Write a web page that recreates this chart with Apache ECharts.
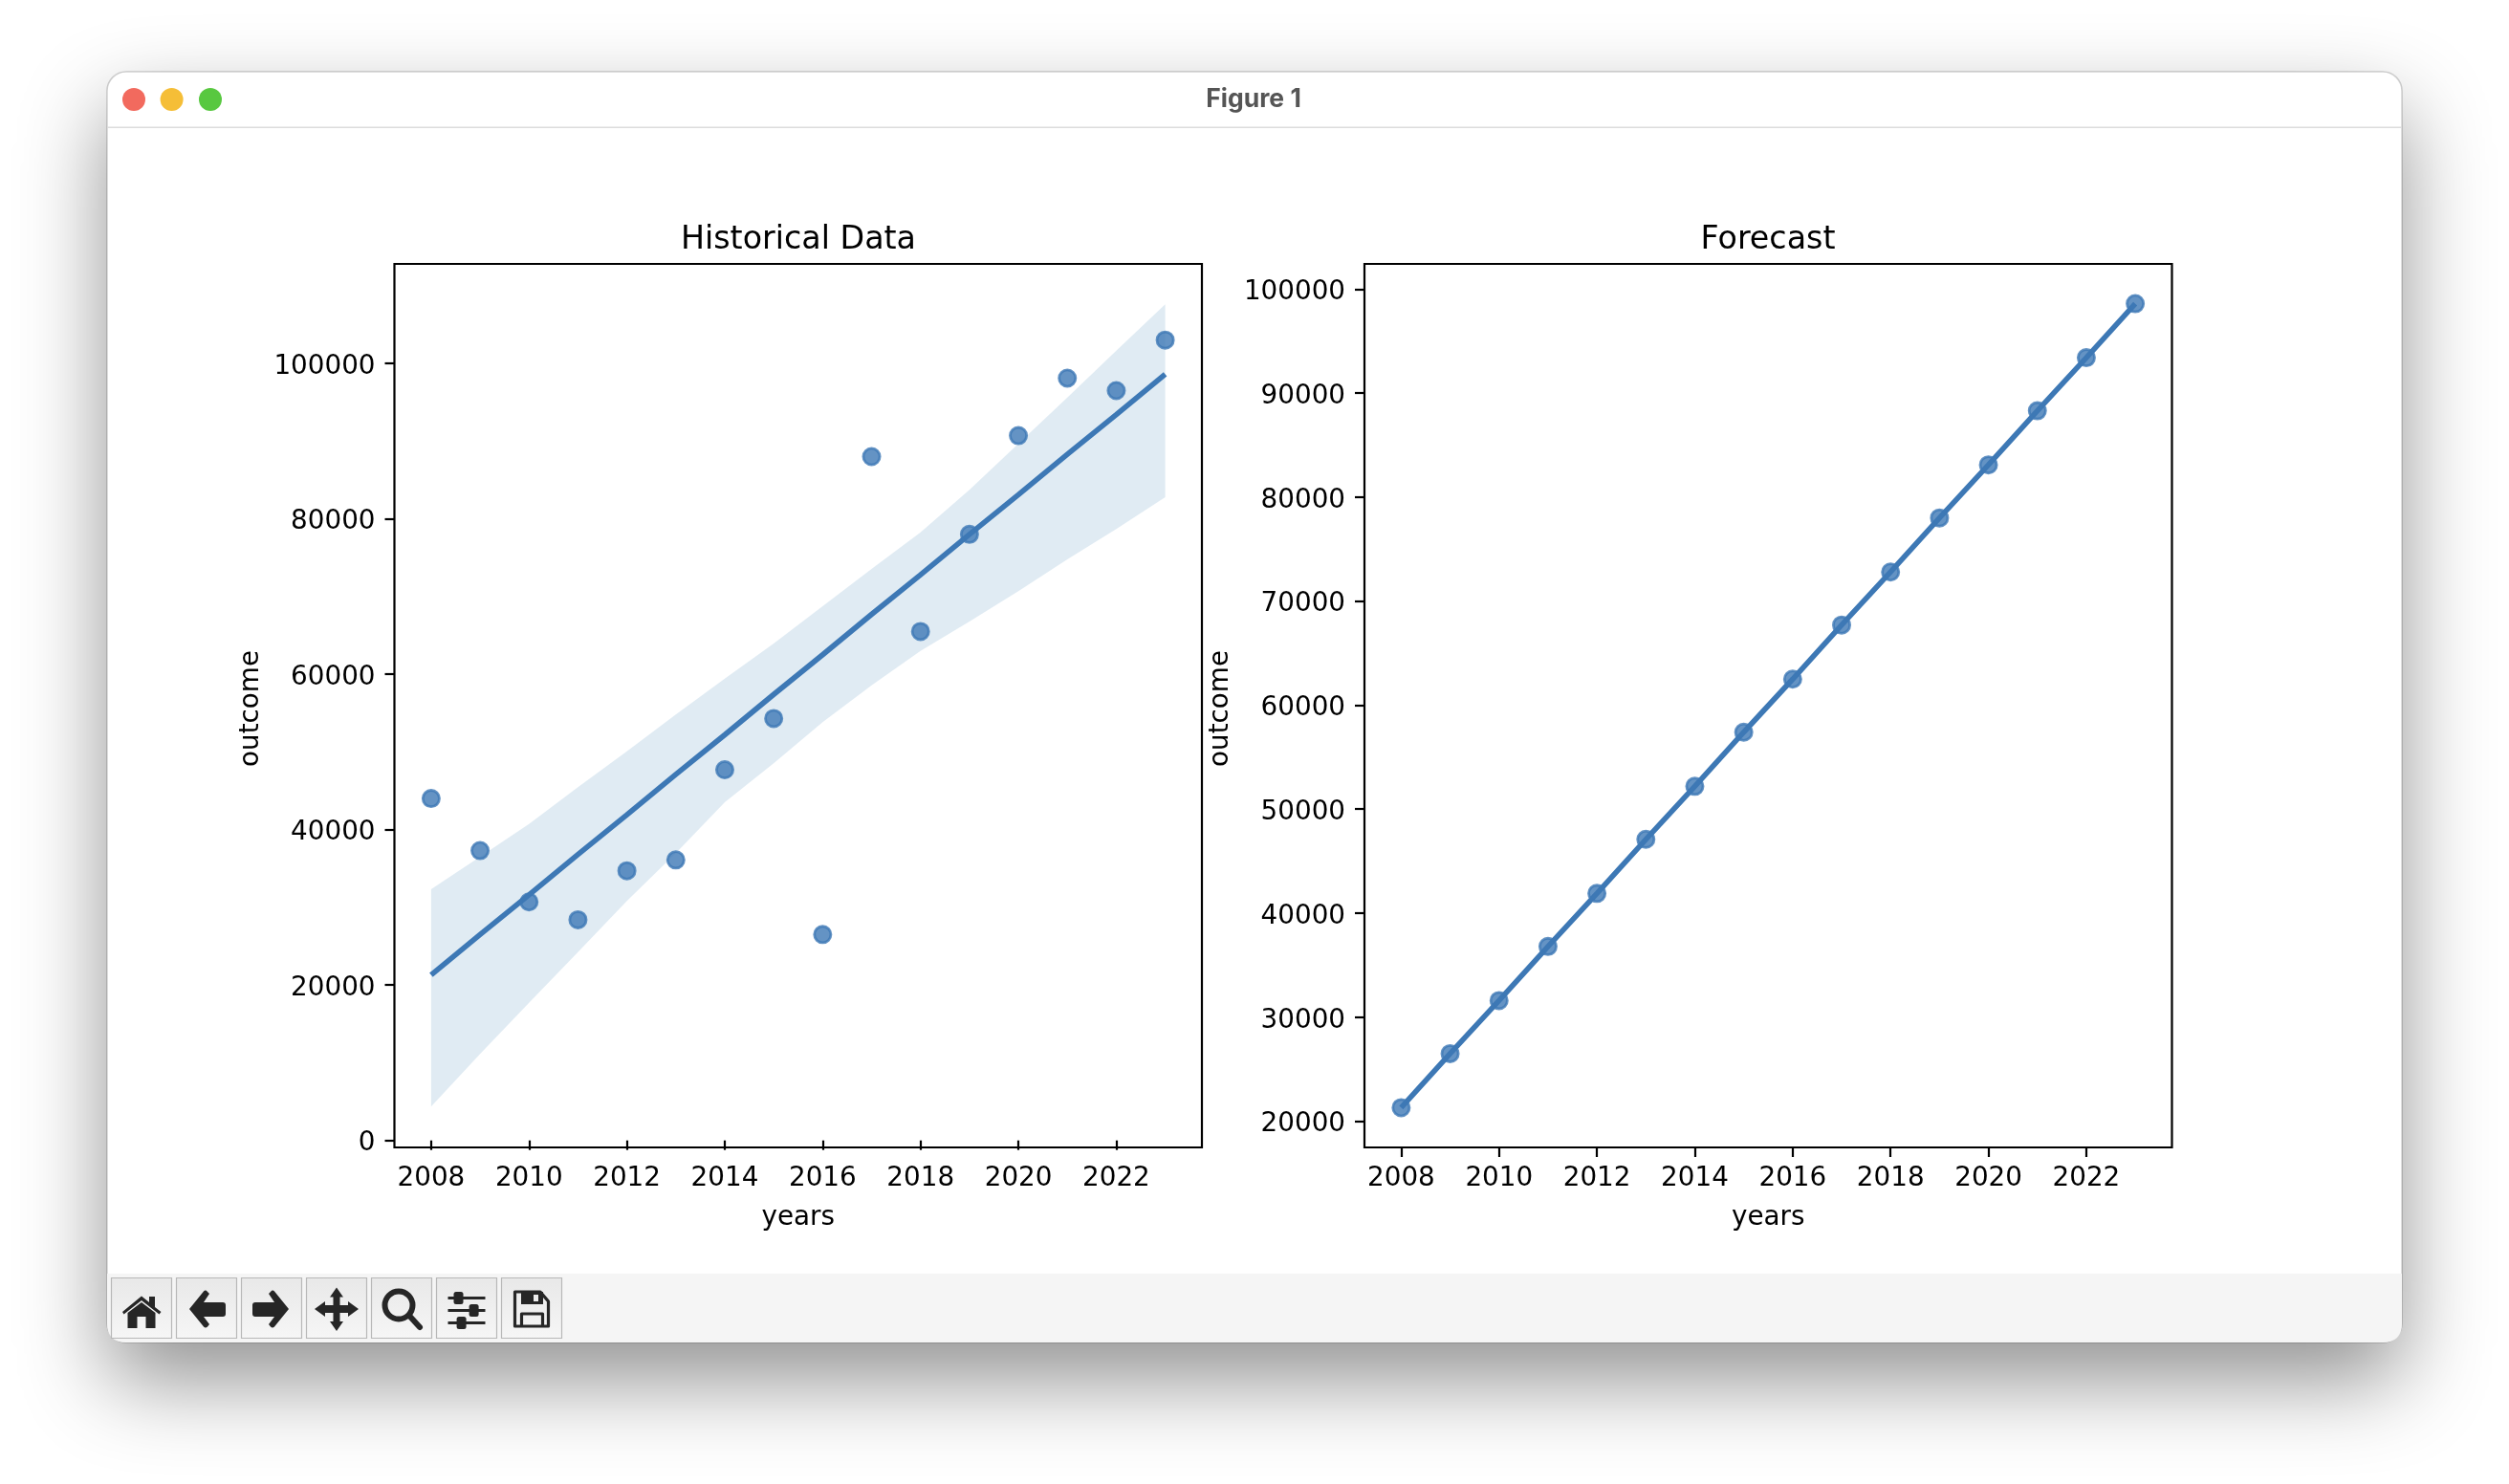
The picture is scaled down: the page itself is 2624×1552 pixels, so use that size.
<!DOCTYPE html>
<html>
<head>
<meta charset="utf-8">
<title>Figure 1</title>
<script src="https://cdn.jsdelivr.net/npm/echarts@6/dist/echarts.min.js"></script>
<style>html,body{margin:0;padding:0;background:#fff}#c{width:2624px;height:1552px}</style>
</head>
<body>
<div id="c"></div>
<script>
const years = [2008,2009,2010,2011,2012,2013,2014,2015,2016,2017,2018,2019,2020,2021,2022,2023];
const xTicks = [2008,2010,2012,2014,2016,2018,2020,2022];
const yTicksHistorical = [0,20000,40000,60000,80000,100000];
const yTicksForecast = [20000,30000,40000,50000,60000,70000,80000,90000,100000];
const historical = [44000,37300,30700,28400,34700,36100,47700,54300,26500,88000,65500,78000,90700,98100,96500,103000];
const fit = [21300,26500,31600,36800,41900,47100,52200,57400,62500,67700,72800,78000,83100,88300,93400,98600];
const forecast = [21300,26500,31600,36800,41900,47100,52200,57400,62500,67700,72800,78000,83100,88300,93400,98600];
const bandUpper = [32330,36500,40730,45450,50080,54800,59430,63950,68750,73540,78260,83720,89660,95610,101640,107600];
const bandLower = [4350,11120,17720,24240,30810,36960,43520,48530,53840,58570,63000,66780,70680,74770,78680,82770];

const INK = '#000';
const BLUE = '#3d78b5';
const DOT = 'rgba(61,120,181,0.8)';
const FONT = '"DejaVu Sans"';
const FS = 27.8;

function pairs(xs, ys){ return xs.map((x,i)=>[x,ys[i]]); }

function xAxis(grid){
  return {
    type:'value', gridIndex:grid, min:2007.25, max:2023.75, name:'years',
    nameLocation:'middle', nameGap:60,
    nameTextStyle:{fontFamily:FONT,fontSize:FS,color:INK},
    splitLine:{show:false}, axisLine:{show:false},
    axisTick:{show:true,length:10,lineStyle:{color:INK,width:2.2},customValues:xTicks},
    axisLabel:{show:true,margin:19,fontFamily:FONT,fontSize:FS,color:INK,customValues:xTicks,formatter:v=>String(v)}
  };
}
function yAxis(grid,min,max,ticks){
  return {
    type:'value', gridIndex:grid, min:min, max:max, name:'outcome',
    nameLocation:'middle', nameGap:136,
    nameTextStyle:{fontFamily:FONT,fontSize:FS,color:INK,padding:[0,6,0,0]},
    splitLine:{show:false}, axisLine:{show:false},
    axisTick:{show:true,length:10,lineStyle:{color:INK,width:2.2},customValues:ticks},
    axisLabel:{show:true,margin:20,fontFamily:FONT,fontSize:FS,color:INK,verticalAlign:'top',lineHeight:7,customValues:ticks,formatter:v=>String(v)}
  };
}

/* window chrome */
let shapeCount = 0;
function pathType(d){
  const name = 'chromePath' + (shapeCount++);
  echarts.graphic.registerShape(name, echarts.graphic.extendPath(d, {}));
  return name;
}
const chrome = [];
const WX=112, WY=75, WW=2400, WH=1329;
chrome.push({type:'rect',z:-20,shape:{x:WX,y:WY,width:WW,height:WH,r:20},
  style:{fill:'#fff',shadowBlur:90,shadowOffsetY:40,shadowColor:'rgba(0,0,0,0.43)',stroke:'rgba(0,0,0,0.18)',lineWidth:1.5}});
chrome.push({type:pathType(`M${WX} 1332 H${WX+WW} V${WY+WH-20} Q${WX+WW} ${WY+WH} ${WX+WW-20} ${WY+WH} H${WX+20} Q${WX} ${WY+WH} ${WX} ${WY+WH-20} Z`),z:-19,style:{fill:'#f5f5f5'}});
chrome.push({type:'rect',z:-19,shape:{x:WX,y:132.5,width:WW,height:1.5},style:{fill:'#dcdcdc'}});
[[140,'#f26a5e'],[179.6,'#f5be37'],[220,'#58c840']].forEach(([cx,col])=>{
  chrome.push({type:'circle',z:-18,shape:{cx:cx,cy:104,r:12},style:{fill:col}});
});
chrome.push({type:'text',z:-18,style:{text:'Figure 1',x:1311,y:104,align:'center',verticalAlign:'middle',font:'bold 26.5px Inter',fill:'#555'}});

const ICON='#262626';
const btnX=[116.5,184.5,252.5,320.5,388.5,456.5,524.5];
btnX.forEach(x=>{
  chrome.push({type:'rect',z:-18,shape:{x:x,y:1336.5,width:63,height:63},
    style:{stroke:'#b8b8b8',lineWidth:1.2,fill:{type:'linear',x:0,y:0,x2:0,y2:1,colorStops:[{offset:0,color:'#e8e8e8'},{offset:1,color:'#f6f6f6'}]}}});
});
function fillPath(cx,d){ chrome.push({type:pathType(d),z:-17,x:cx,y:1368,style:{fill:ICON}}); }
function strokePath(cx,d,w,cap){ chrome.push({type:pathType(d),z:-17,x:cx,y:1368,style:{fill:'none',stroke:ICON,lineWidth:w,lineCap:cap||'butt',lineJoin:'round'}}); }
const c=i=>btnX[i]+31.5;
/* home */
fillPath(c(0),'M-20 4 L0 -12.5 L8 -6 L8 -12 L14 -12 L14 -1 L20.5 4 L18.5 6.5 L0 -8 L-18.5 6.5 Z');
fillPath(c(0),'M-14.5 5 L0 -6 L14.5 5 L14.5 21 L4.5 21 L4.5 9 L-4.5 9 L-4.5 21 L-14.5 21 Z');
/* back / forward */
const arrow=s=>`M${-18*s} 1 L${-3*s} -17.5 Q${-1*s} -19.5 ${1*s} -17 L${3*s} -15 L${-3*s} -6 L${17*s} -6 Q${20*s} -6 ${20*s} -3 L${20*s} 6 Q${20*s} 9 ${17*s} 9 L${-3*s} 9 L${3*s} 17 L${1*s} 19.5 Q${-1*s} 21.5 ${-3*s} 19.5 Z`;
fillPath(c(1),arrow(1));
fillPath(c(2),arrow(-1));
/* move */
fillPath(c(3),'M0 -21.5 L7 -11.5 L3.5 -11.5 L3.5 -3 L12 -3 L12 -7 L23 1 L12 9 L12 5 L3.5 5 L3.5 14 L7 14 L0 24 L-7 14 L-3.5 14 L-3.5 5 L-12 5 L-12 9 L-23 1 L-12 -7 L-12 -3 L-3.5 -3 L-3.5 -11.5 L-7 -11.5 Z');
/* zoom */
chrome.push({type:'circle',z:-17,shape:{cx:c(4)-3,cy:1365,r:14.5},style:{fill:'none',stroke:ICON,lineWidth:6}});
strokePath(c(4),'M9 9 L19 20',6,'round');
/* sliders */
[[-10.5,-8.5],[2.5,7.6],[15.5,-5.4]].forEach(([y,k])=>{
  strokePath(c(5),`M-19.5 ${y} H19.5`,3);
  chrome.push({type:'rect',z:-17,shape:{x:c(5)+k-5,y:1368+y-6.5,width:10,height:13,r:2.5},style:{fill:ICON}});
});
/* save */
strokePath(c(6),'M-17.5 -17 H9 L17.5 -7 V19 H-17.5 Z',3.2);
fillPath(c(6),'M-11 -17 H12 V-4 H-11 Z M2 -14 V-7 H7 V-14 Z');
strokePath(c(6),'M-10.5 19 V6 H11.5 V19',3.2);

const option = {
  animation:false,
  backgroundColor:'#fff',
  title:[
    {text:'Historical Data',left:830,top:230,textAlign:'center',textStyle:{fontFamily:FONT,fontSize:33.3,fontWeight:'normal',color:INK}},
    {text:'Forecast',left:1844,top:230,textAlign:'center',textStyle:{fontFamily:FONT,fontSize:33.3,fontWeight:'normal',color:INK}}
  ],
  grid:[
    {show:true,left:412.5,top:276,width:844.5,height:924,borderColor:INK,borderWidth:2.2,backgroundColor:'transparent'},
    {show:true,left:1427,top:276,width:844.5,height:924,borderColor:INK,borderWidth:2.2,backgroundColor:'transparent'}
  ],
  xAxis:[xAxis(0),xAxis(1)],
  yAxis:[yAxis(0,-900,112800,yTicksHistorical),yAxis(1,17480,102420,yTicksForecast)],
  graphic:{elements:chrome},
  series:[
    {type:'scatter',xAxisIndex:0,yAxisIndex:0,data:pairs(years,historical),symbol:'circle',symbolSize:17.2,itemStyle:{color:DOT,borderColor:DOT,borderWidth:2.8,opacity:1},z:3},
    {type:'custom',xAxisIndex:0,yAxisIndex:0,z:3,clip:true,
     data:years.map((y,i)=>[y,bandLower[i],bandUpper[i]]),
     encode:{x:0,y:[1,2]},
     renderItem:(params,api)=>{
       if(params.dataIndex!==0) return null;
       const up=years.map((y,i)=>api.coord([y,bandUpper[i]]));
       const lo=years.map((y,i)=>api.coord([y,bandLower[i]])).reverse();
       return {type:'polygon',shape:{points:up.concat(lo)},style:{fill:'rgba(50,120,175,0.15)',stroke:'none'}};
     }},
    {type:'line',xAxisIndex:0,yAxisIndex:0,data:pairs(years,fit),showSymbol:false,symbol:'none',lineStyle:{color:BLUE,width:5.6,cap:'butt'},z:3},
    {type:'scatter',xAxisIndex:1,yAxisIndex:1,data:pairs(years,forecast),symbol:'circle',symbolSize:17.2,itemStyle:{color:DOT,borderColor:DOT,borderWidth:2.8,opacity:1},z:3},
    {type:'line',xAxisIndex:1,yAxisIndex:1,data:pairs(years,forecast),showSymbol:false,symbol:'none',lineStyle:{color:BLUE,width:5.6,cap:'butt'},z:3}
  ]
};
const chart = echarts.init(document.getElementById('c'),null,{renderer:'canvas',width:2624,height:1552});
chart.setOption(option);
</script>
</body>
</html>
